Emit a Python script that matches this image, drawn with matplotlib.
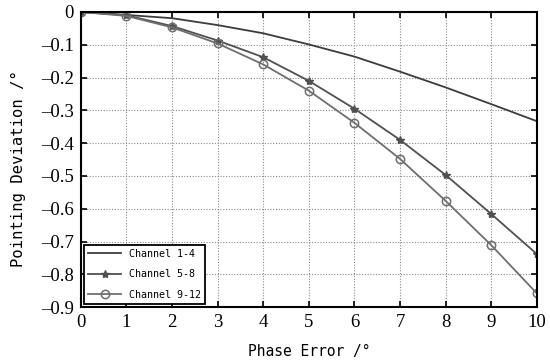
import matplotlib
matplotlib.use("Agg")
import matplotlib.pyplot as plt

# --- Donnees ---
phase_err = [0, 1, 2, 3, 4, 5, 6, 7, 8, 9, 10]
ch_1_4 = [0, -0.009, -0.019, -0.040, -0.065, -0.099, -0.136, -0.182, -0.230, -0.281, -0.333]
ch_5_8 = [0, -0.010, -0.043, -0.087, -0.138, -0.210, -0.295, -0.390, -0.497, -0.616, -0.738]
ch_9_12 = [0, -0.012, -0.047, -0.096, -0.160, -0.240, -0.338, -0.448, -0.576, -0.711, -0.858]
xticks = list(range(0, 11))
yticks = [0, -0.1, -0.2, -0.3, -0.4, -0.5, -0.6, -0.7, -0.8, -0.9]
ytick_labels = ["0"] + ["\u2013%.1f" % abs(v) for v in yticks[1:]]

fig = plt.figure(figsize=(5.5, 3.63), dpi=100)
ax = fig.add_axes([0.147, 0.154, 0.829, 0.813])

ax.plot(phase_err, ch_1_4, color="#3c3c3c", lw=1.3, label="Channel 1-4")
ax.plot(phase_err, ch_5_8, color="#505050", lw=1.3, marker="*", ms=6,
        mfc="#505050", mec="#505050", label="Channel 5-8")
ax.plot(phase_err, ch_9_12, color="#6e6e6e", lw=1.3, marker="o", ms=6,
        mfc="none", mec="#6e6e6e", mew=1.1, label="Channel 9-12")

ax.set_xlim(0, 10)
ax.set_ylim(-0.9, 0)
ax.set_xticks(xticks)
ax.set_yticks(yticks)
ax.set_yticklabels(ytick_labels)
for lab in ax.get_xticklabels() + ax.get_yticklabels():
    lab.set_fontfamily("Liberation Serif")
    lab.set_fontsize(13.5)

ax.tick_params(direction="in", top=True, right=True, length=4, width=1.2, pad=5)
ax.grid(True, linestyle=(0, (1, 1.5)), color="#8a8a8a", lw=0.8)
for sp in ax.spines.values():
    sp.set_linewidth(1.5)
    sp.set_color("black")

ax.set_xlabel("Phase Error /\u00b0", fontfamily="DejaVu Sans Mono", fontsize=10.5, labelpad=9)
ax.set_ylabel("Pointing Deviation /\u00b0", fontfamily="DejaVu Sans Mono", fontsize=11.2, labelpad=9)
ax.yaxis.set_label_coords(-0.12, 0.47)

leg = ax.legend(loc="lower left", prop={"family": "DejaVu Sans Mono", "size": 7.2},
                fancybox=False, framealpha=1, edgecolor="black",
                borderaxespad=0.35, handlelength=3.3, labelspacing=1.05)
leg.get_frame().set_linewidth(1.3)

fig.savefig("out.png", dpi=100, facecolor="white")
